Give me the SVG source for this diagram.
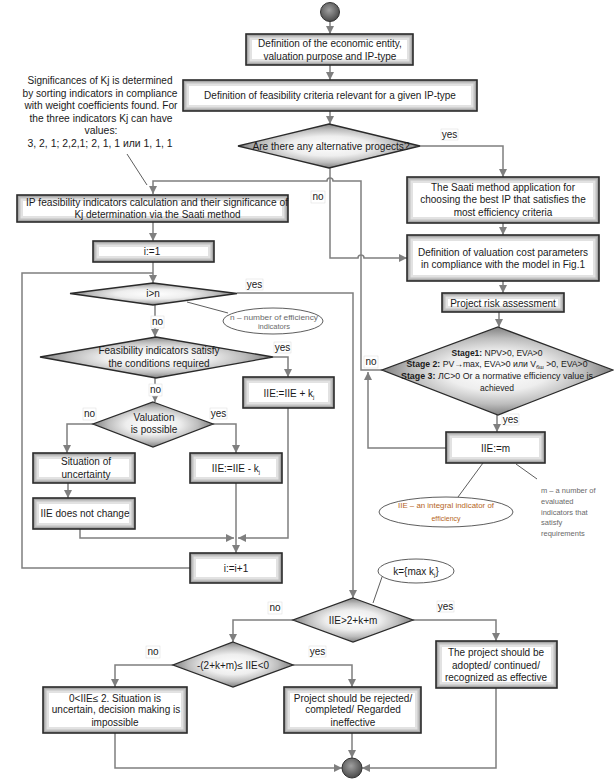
<svg xmlns="http://www.w3.org/2000/svg" width="614" height="780" viewBox="0 0 614 780">
<style>
.t{font-family:"Liberation Sans",Arial,sans-serif;font-size:10px;fill:#1a1a1a;text-anchor:middle}
.s{font-size:8.5px}
.g{font-family:"Liberation Sans",Arial,sans-serif;font-size:7.5px;fill:#6a6a6a}
.bf{fill:#fff}
.g1{fill:none;stroke:#606060;stroke-width:12;stroke-opacity:0.18;clip-path:url(#cb)}
.g2{fill:none;stroke:#606060;stroke-width:7;stroke-opacity:0.25;clip-path:url(#cb)}
.g3{fill:none;stroke:#606060;stroke-width:3.5;stroke-opacity:0.35;clip-path:url(#cb)}
.bs{fill:none;stroke:#2a2a2a;stroke-width:1.6}
.dia{fill:url(#gd);stroke:#2a2a2a;stroke-width:1.3}
.term{fill:url(#gc);stroke:#333;stroke-width:1}
.ell{fill:#fff;stroke:#333;stroke-width:0.8}
.c{fill:none;stroke:#7f7f7f;stroke-width:1.5}
.ca{fill:none;stroke:#7f7f7f;stroke-width:1.5;marker-end:url(#ah)}
.thin{fill:none;stroke:#333;stroke-width:0.8}
.lb{fill:#fff;stroke:#e0e0e0;stroke-width:0.6}
</style>
<defs>
<clipPath id="cb" clipPathUnits="objectBoundingBox"><rect x="0" y="0" width="1" height="1"/></clipPath>
<radialGradient id="gd" cx="50%" cy="50%" r="50%">
<stop offset="0" stop-color="#ffffff"/>
<stop offset="0.45" stop-color="#eeeeee"/>
<stop offset="0.75" stop-color="#bdbdbd"/>
<stop offset="1" stop-color="#808080"/>
</radialGradient>
<radialGradient id="gc" cx="45%" cy="40%" r="60%">
<stop offset="0" stop-color="#a0a0a0"/>
<stop offset="1" stop-color="#4a4a4a"/>
</radialGradient>
<marker id="ah" markerUnits="userSpaceOnUse" markerWidth="9" markerHeight="8" refX="8" refY="4" orient="auto">
<path d="M0,0 L8,4 L0,8 z" fill="#7f7f7f"/>
</marker>
</defs>

<g id="connectors">
<path class="ca" d="M330,22 V34"/>
<path class="ca" d="M330,65 V80"/>
<path class="ca" d="M330,111 V124"/>
<path class="ca" d="M420,146 H503 V177"/>
<path class="ca" d="M503,223 V235"/>
<path class="ca" d="M503,281 V293"/>
<path class="ca" d="M499,312 V327"/>
<path class="ca" d="M330,168 V258 H358 a3,3 0 0 1 6,0 H407"/>
<path class="ca" d="M382,370 H361 V181 H333 a3,3 0 0 0 -6,0 H153 V194"/>
<path class="ca" d="M497,415 V432"/>
<path class="ca" d="M446,448 H368 V372"/>
<path class="ca" d="M153,222 V241"/>
<path class="ca" d="M153,262 V283"/>
<path class="c" d="M190,568 H22 V273 H153"/>
<path class="ca" d="M237,293 H353 V598"/>
<path class="ca" d="M155,305 V337"/>
<path class="ca" d="M273,357 H288 V377"/>
<path class="ca" d="M155,378 V402"/>
<path class="ca" d="M93,424 H67 V453"/>
<path class="ca" d="M213,424 H236 V453"/>
<path class="ca" d="M68,483 V498"/>
<path class="ca" d="M80,529 V538 H234"/>
<path class="ca" d="M288,408 V538 H238"/>
<path class="ca" d="M236,483 V553"/>
<path class="ca" d="M293,620 H233 V642"/>
<path class="ca" d="M413,620 H496 V641"/>
<path class="ca" d="M173,665 H115 V687"/>
<path class="ca" d="M293,665 H352 V687"/>
<path class="ca" d="M352,733 V758"/>
<path class="ca" d="M115,733 V768 H342"/>
<path class="ca" d="M496,688 V768 H362"/>
<path class="thin" d="M127,154 L147,185"/>
<path class="thin" d="M187,302 L228,313"/>
<path class="thin" d="M483,463 L458,497"/>
<path class="thin" d="M516,464 L537,479"/>
<path class="thin" d="M382,577 L373,603"/>
</g>

<g id="labels">
<rect class="lb" x="441" y="129" width="17" height="11"/><text class="t" x="449.5" y="138">yes</text>
<rect class="lb" x="311" y="191" width="14" height="12"/><text class="t" x="318" y="200">no</text>
<rect class="lb" x="246" y="279" width="17" height="11"/><text class="t" x="254.5" y="288">yes</text>
<rect class="lb" x="151" y="316" width="13" height="12"/><text class="t" x="157.5" y="325">no</text>
<rect class="lb" x="274" y="342" width="17" height="11"/><text class="t" x="282.5" y="351">yes</text>
<rect class="lb" x="149" y="384" width="13" height="12"/><text class="t" x="155.5" y="393">no</text>
<rect class="lb" x="83" y="408" width="13" height="12"/><text class="t" x="89.5" y="417">no</text>
<rect class="lb" x="210" y="408" width="17" height="11"/><text class="t" x="218.5" y="417">yes</text>
<rect class="lb" x="364" y="356" width="14" height="12"/><text class="t" x="371" y="365">no</text>
<rect class="lb" x="502" y="414" width="17" height="11"/><text class="t" x="510.5" y="423">yes</text>
<rect class="lb" x="268" y="602" width="14" height="12"/><text class="t" x="275" y="611">no</text>
<rect class="lb" x="437" y="601" width="17" height="11"/><text class="t" x="445.5" y="610">yes</text>
<rect class="lb" x="146" y="646" width="14" height="12"/><text class="t" x="153" y="655">no</text>
<rect class="lb" x="309" y="646" width="17" height="11"/><text class="t" x="317.5" y="655">yes</text>
</g>

<g id="note-kj">
<text class="t" x="100" y="84" textLength="145" lengthAdjust="spacingAndGlyphs">Significances of Kj is determined</text>
<text class="t" x="100" y="96.5" textLength="155" lengthAdjust="spacingAndGlyphs">by sorting indicators in compliance</text>
<text class="t" x="101" y="109" textLength="153" lengthAdjust="spacingAndGlyphs">with weight coefficients found. For</text>
<text class="t" x="101" y="121.5" textLength="143" lengthAdjust="spacingAndGlyphs">the three indicators Kj can have</text>
<text class="t" x="101" y="134" textLength="33" lengthAdjust="spacingAndGlyphs">values:</text>
<text class="t" x="100" y="147" textLength="145" lengthAdjust="spacingAndGlyphs">3, 2, 1; 2,2,1;  2, 1, 1 или 1, 1, 1</text>
</g>

<g id="start"><circle class="term" cx="330" cy="12" r="9.5"/></g>

<g id="n1">
<rect class="bf" x="246" y="34" width="167" height="31"/><rect class="g1" x="246" y="34" width="167" height="31"/><rect class="g2" x="246" y="34" width="167" height="31"/><rect class="g3" x="246" y="34" width="167" height="31"/><rect class="bs" x="246" y="34" width="167" height="31"/>
<text class="t" x="330" y="47">Definition of the economic entity,</text>
<text class="t" x="330" y="60">valuation purpose and IP-type</text></g>

<g id="n2">
<rect class="bf" x="183" y="80" width="294" height="31"/><rect class="g1" x="183" y="80" width="294" height="31"/><rect class="g2" x="183" y="80" width="294" height="31"/><rect class="g3" x="183" y="80" width="294" height="31"/><rect class="bs" x="183" y="80" width="294" height="31"/>
<text class="t" x="330" y="99">Definition of feasibility criteria relevant for a given IP-type</text></g>

<g id="d1"><polygon class="dia" points="329,124 420,146 329,168 238,146"/>
<text class="t" x="331" y="149.5" textLength="157" lengthAdjust="spacingAndGlyphs">Are there any alternative progects?</text></g>

<g id="n3">
<rect class="bf" x="407" y="177" width="192" height="46"/><rect class="g1" x="407" y="177" width="192" height="46"/><rect class="g2" x="407" y="177" width="192" height="46"/><rect class="g3" x="407" y="177" width="192" height="46"/><rect class="bs" x="407" y="177" width="192" height="46"/>
<text class="t" x="503" y="190.5">The Saati method application for</text>
<text class="t" x="503" y="203">choosing the best IP that satisfies the</text>
<text class="t" x="503" y="215.5">most efficiency criteria</text></g>

<g id="n4">
<rect class="bf" x="407" y="235" width="192" height="46"/><rect class="g1" x="407" y="235" width="192" height="46"/><rect class="g2" x="407" y="235" width="192" height="46"/><rect class="g3" x="407" y="235" width="192" height="46"/><rect class="bs" x="407" y="235" width="192" height="46"/>
<text class="t" x="503" y="256">Definition of valuation cost parameters</text>
<text class="t" x="503" y="268">in compliance with the model in Fig.1</text></g>

<g id="n5">
<rect class="bf" x="442" y="293" width="122" height="19"/><rect class="g1" x="442" y="293" width="122" height="19"/><rect class="g2" x="442" y="293" width="122" height="19"/><rect class="g3" x="442" y="293" width="122" height="19"/><rect class="bs" x="442" y="293" width="122" height="19"/>
<text class="t" x="503" y="306.5">Project risk assessment</text></g>

<g id="d2"><polygon class="dia" points="498,327 613,370 498,415 382,370"/>
<text class="t s" x="497" y="356"><tspan font-weight="bold">Stage1:</tspan> NPV&gt;0, EVA&gt;0</text>
<text class="t s" x="497" y="367" textLength="181" lengthAdjust="spacingAndGlyphs"><tspan font-weight="bold">Stage 2:</tspan> PV→max, EVA&gt;0 или V<tspan font-size="5.5" dy="1.5">бш</tspan><tspan dy="-1.5"> &gt;0, EVA&gt;0</tspan></text>
<text class="t s" x="497" y="379" textLength="192" lengthAdjust="spacingAndGlyphs"><tspan font-weight="bold">Stage 3:</tspan> ЛС&gt;0 Or a normative efficiency value is</text>
<text class="t s" x="497" y="391">achieved</text></g>

<g id="n6">
<rect class="bf" x="446" y="432" width="99" height="31"/><rect class="g1" x="446" y="432" width="99" height="31"/><rect class="g2" x="446" y="432" width="99" height="31"/><rect class="g3" x="446" y="432" width="99" height="31"/><rect class="bs" x="446" y="432" width="99" height="31"/>
<text class="t" x="495.5" y="451.5">IIE:=m</text></g>

<g id="e-iie"><ellipse class="ell" cx="446" cy="512" rx="67" ry="15"/>
<text x="446" y="507.5" font-family="Liberation Sans,Arial,sans-serif" font-size="7" text-anchor="middle" fill="#b5651d" textLength="96" lengthAdjust="spacingAndGlyphs">IIE – an integral indicator of</text>
<text x="446" y="520.5" font-family="Liberation Sans,Arial,sans-serif" font-size="7" text-anchor="middle" fill="#b5651d">efficiency</text></g>

<g id="note-m">
<text class="g" x="541" y="493">m – a number of</text>
<text class="g" x="541" y="504">evaluated</text>
<text class="g" x="541" y="514.5">indicators that</text>
<text class="g" x="541" y="525">satisfy</text>
<text class="g" x="541" y="535.5">requirements</text></g>

<g id="n7">
<rect class="bf" x="17" y="195" width="271" height="27"/><rect class="g1" x="17" y="195" width="271" height="27"/><rect class="g2" x="17" y="195" width="271" height="27"/><rect class="g3" x="17" y="195" width="271" height="27"/><rect class="bs" x="17" y="195" width="271" height="27"/>
<text class="t" x="157" y="205.5" textLength="262" lengthAdjust="spacingAndGlyphs">IP feasibility indicators calculation and their significance of</text>
<text class="t" x="157.5" y="217.5">Kj determination via the Saati method</text></g>

<g id="n8">
<rect class="bf" x="93" y="241" width="121" height="21"/><rect class="g1" x="93" y="241" width="121" height="21"/><rect class="g2" x="93" y="241" width="121" height="21"/><rect class="g3" x="93" y="241" width="121" height="21"/><rect class="bs" x="93" y="241" width="121" height="21"/>
<text class="t" x="152" y="254.5">i:=1</text></g>

<g id="d3"><polygon class="dia" points="153,283 237,293.5 153,305 70,293.5"/>
<text class="t" x="153" y="297">i&gt;n</text></g>

<g id="e-n"><ellipse class="ell" cx="273" cy="321" rx="50" ry="13"/>
<text class="g" x="274" y="319.5" text-anchor="middle" textLength="88" lengthAdjust="spacingAndGlyphs">n – number of efficiency</text>
<text class="g" x="274" y="329" text-anchor="middle">indicators</text></g>

<g id="d4"><polygon class="dia" points="156,337 273,357 156,378 40,357"/>
<text class="t" x="159" y="353.5">Feasibility indicators satisfy</text>
<text class="t" x="159" y="366.5">the conditions required</text></g>

<g id="n9">
<rect class="bf" x="243" y="377" width="91" height="31"/><rect class="g1" x="243" y="377" width="91" height="31"/><rect class="g2" x="243" y="377" width="91" height="31"/><rect class="g3" x="243" y="377" width="91" height="31"/><rect class="bs" x="243" y="377" width="91" height="31"/>
<text class="t" x="289" y="396.5">IIE:=IIE +  k<tspan font-size="6" dy="2">j</tspan></text></g>

<g id="d5"><polygon class="dia" points="153,402 213,424 153,447 93,424"/>
<text class="t" x="154" y="420.5">Valuation</text>
<text class="t" x="154" y="432.5">is possible</text></g>

<g id="n10">
<rect class="bf" x="33" y="453" width="102" height="30"/><rect class="g1" x="33" y="453" width="102" height="30"/><rect class="g2" x="33" y="453" width="102" height="30"/><rect class="g3" x="33" y="453" width="102" height="30"/><rect class="bs" x="33" y="453" width="102" height="30"/>
<text class="t" x="86" y="464.5">Situation of</text>
<text class="t" x="86" y="477.5">uncertainty</text></g>

<g id="n11">
<rect class="bf" x="33" y="498" width="102" height="31"/><rect class="g1" x="33" y="498" width="102" height="31"/><rect class="g2" x="33" y="498" width="102" height="31"/><rect class="g3" x="33" y="498" width="102" height="31"/><rect class="bs" x="33" y="498" width="102" height="31"/>
<text class="t" x="85" y="516.5">IIE does not change</text></g>

<g id="n12">
<rect class="bf" x="190" y="453" width="92" height="30"/><rect class="g1" x="190" y="453" width="92" height="30"/><rect class="g2" x="190" y="453" width="92" height="30"/><rect class="g3" x="190" y="453" width="92" height="30"/><rect class="bs" x="190" y="453" width="92" height="30"/>
<text class="t" x="236" y="471.5">IIE:=IIE - k<tspan font-size="6" dy="2">j</tspan></text></g>

<g id="n13">
<rect class="bf" x="190" y="553" width="92" height="30"/><rect class="g1" x="190" y="553" width="92" height="30"/><rect class="g2" x="190" y="553" width="92" height="30"/><rect class="g3" x="190" y="553" width="92" height="30"/><rect class="bs" x="190" y="553" width="92" height="30"/>
<text class="t" x="236" y="571.5">i:=i+1</text></g>

<g id="e-k"><ellipse class="ell" cx="416" cy="571" rx="38" ry="12"/>
<text class="t" x="416" y="574.5">k={max k<tspan font-size="6" dy="2">j</tspan><tspan dy="-2">}</tspan></text></g>

<g id="d6"><polygon class="dia" points="353,598 413,620 353,642 293,620"/>
<text class="t" x="353" y="623.5">IIE&gt;2+k+m</text></g>

<g id="d7"><polygon class="dia" points="233,642 293,665 233,687 173,665"/>
<text class="t" x="233" y="668.5" textLength="72" lengthAdjust="spacingAndGlyphs">-(2+k+m)≤ IIE&lt;0</text></g>

<g id="n14">
<rect class="bf" x="43" y="687" width="144" height="46"/><rect class="g1" x="43" y="687" width="144" height="46"/><rect class="g2" x="43" y="687" width="144" height="46"/><rect class="g3" x="43" y="687" width="144" height="46"/><rect class="bs" x="43" y="687" width="144" height="46"/>
<text class="t" x="115" y="701.5">0&lt;IIE≤ 2. Situation is</text>
<text class="t" x="116" y="713">uncertain, decision making is</text>
<text class="t" x="115" y="726">impossible</text></g>

<g id="n15">
<rect class="bf" x="284" y="687" width="137" height="46"/><rect class="g1" x="284" y="687" width="137" height="46"/><rect class="g2" x="284" y="687" width="137" height="46"/><rect class="g3" x="284" y="687" width="137" height="46"/><rect class="bs" x="284" y="687" width="137" height="46"/>
<text class="t" x="353" y="701.5">Project should be rejected/</text>
<text class="t" x="353" y="713">completed/ Regarded</text>
<text class="t" x="353" y="726">ineffective</text></g>

<g id="n16">
<rect class="bf" x="436" y="641" width="121" height="47"/><rect class="g1" x="436" y="641" width="121" height="47"/><rect class="g2" x="436" y="641" width="121" height="47"/><rect class="g3" x="436" y="641" width="121" height="47"/><rect class="bs" x="436" y="641" width="121" height="47"/>
<text class="t" x="496" y="655.5">The project should be</text>
<text class="t" x="496" y="668.5">adopted/ continued/</text>
<text class="t" x="496" y="681">recognized as effective</text></g>

<g id="end"><circle class="term" cx="352" cy="768" r="10"/></g>
</svg>
